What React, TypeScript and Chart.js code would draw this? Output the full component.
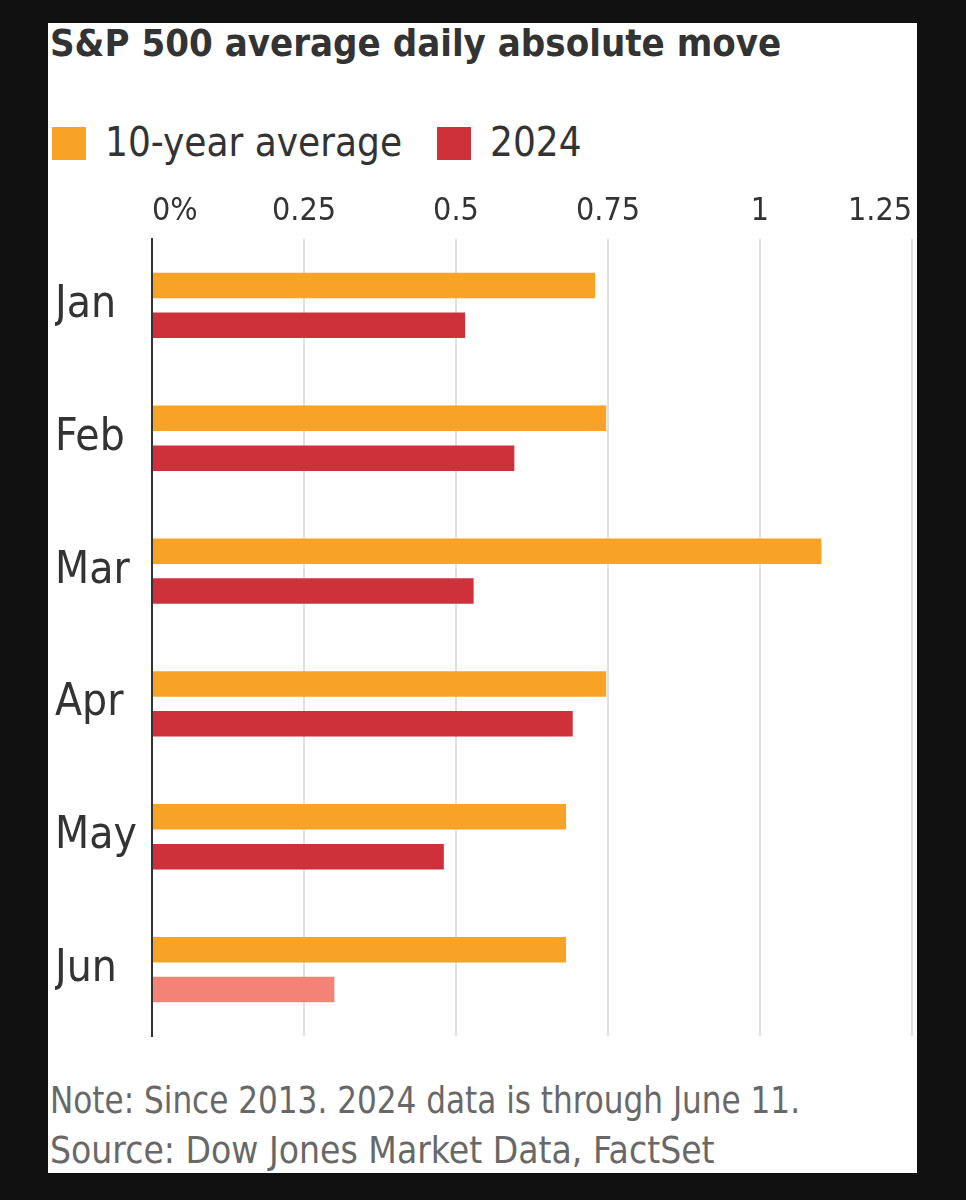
import React, { useEffect, useRef } from "react";
import { Chart, registerables } from "chart.js";

Chart.register(...registerables);

const months = ["Jan", "Feb", "Mar", "Apr", "May", "Jun"];
const tenYearAvg = [0.729, 0.747, 1.101, 0.747, 0.681, 0.681];
const year2024 = [0.515, 0.596, 0.529, 0.692, 0.48, 0.3];
const seriesNames = ["10-year average", "2024"];
const xTicks = [0, 0.25, 0.5, 0.75, 1, 1.25];
const titleText = "S&P 500 average daily absolute move";
const noteLines = ["Note: Since 2013. 2024 data is through June 11.", "Source: Dow Jones Market Data, FactSet"];
const noteScales = [0.91, 0.97];

const ORANGE = "#F9A326";
const RED = "#CF313B";
const SALMON = "#F28376";
const TEXT = "#333333";
const FONT = '"DejaVu Sans Condensed", "Liberation Sans Narrow", "Roboto", sans-serif';

const bar2024Colors = year2024.map((_, i) => (i === year2024.length - 1 ? SALMON : RED));

function BarChart() {
  const ref = useRef<HTMLCanvasElement | null>(null);
  useEffect(() => {
    if (!ref.current) return;
    const chart = new Chart(ref.current, {
      type: "bar",
      data: {
        labels: months,
        datasets: [
          {
            label: seriesNames[0],
            data: tenYearAvg,
            backgroundColor: ORANGE,
            categoryPercentage: 0.6,
            barPercentage: 0.64,
          },
          {
            label: seriesNames[1],
            data: year2024,
            backgroundColor: bar2024Colors,
            categoryPercentage: 0.6,
            barPercentage: 0.64,
          },
        ],
      },
      options: {
        indexAxis: "y",
        animation: false,
        responsive: true,
        maintainAspectRatio: false,
        layout: { padding: { left: 7, right: 5, top: 0, bottom: 14 } },
        plugins: {
          legend: { display: false },
          title: { display: false },
          tooltip: { enabled: false },
        },
        scales: {
          x: {
            type: "linear",
            position: "top",
            min: 0,
            max: 1.25,
            afterBuildTicks: (axis: any) => {
              axis.ticks = xTicks.map((v) => ({ value: v }));
            },
            afterFit: (axis: any) => {
              axis.height = 59;
              axis.paddingLeft = 0;
              axis.paddingRight = 0;
            },
            ticks: {
              align: "inner",
              padding: 8,
              color: TEXT,
              font: { family: FONT, size: 32 },
              callback: (v: any) => (Number(v) === 0 ? "0%" : String(v)),
            },
            grid: {
              drawTicks: false,
              lineWidth: 2,
              color: (ctx: any) => (ctx.tick && ctx.tick.value === 0 ? "rgba(0,0,0,0)" : "#E0E0E0"),
            },
            border: { display: false },
          },
          y: {
            afterFit: (axis: any) => {
              axis.width = 97;
              axis.paddingTop = 0;
              axis.paddingBottom = 0;
            },
            ticks: {
              crossAlign: "far",
              color: TEXT,
              font: { family: FONT, size: 44 },
            },
            grid: { display: false },
            border: { display: true, color: "#333333", width: 2 },
          },
        },
      },
    });
    return () => chart.destroy();
  }, []);
  return <canvas ref={ref} />;
}

const abs = (left: number, top: number, extra: React.CSSProperties = {}): React.CSSProperties => ({
  position: "absolute",
  left,
  top,
  whiteSpace: "nowrap",
  ...extra,
});

export default function App() {
  return (
    <div style={{ position: "fixed", inset: 0, background: "#111111", fontFamily: FONT }}>
      <div
        style={{
          position: "absolute",
          left: 48,
          top: 23,
          width: 869,
          height: 1150,
          background: "#ffffff",
          overflow: "hidden",
        }}
      >
        <div style={abs(2, -4, { fontSize: 38, lineHeight: "48px", fontWeight: "bold", color: TEXT })}>
          {titleText}
        </div>
        <div style={abs(4, 104, { width: 34, height: 33, background: ORANGE })} />
        <div style={abs(57, 95, { fontSize: 40, lineHeight: "48px", color: TEXT })}>{seriesNames[0]}</div>
        <div style={abs(389, 104, { width: 34, height: 33, background: RED })} />
        <div style={abs(442, 95, { fontSize: 40, lineHeight: "48px", color: TEXT })}>{seriesNames[1]}</div>
        <div style={{ position: "absolute", left: 0, top: 157, width: 869, height: 870 }}>
          <BarChart />
        </div>
        {noteLines.map((t, i) => (
          <div
            key={t}
            style={abs(2, 1052 + i * 50, {
              fontSize: 38,
              lineHeight: "50px",
              color: "#686868",
              transform: `scaleX(${noteScales[i]})`,
              transformOrigin: "left top",
            })}
          >
            {t}
          </div>
        ))}
      </div>
    </div>
  );
}
